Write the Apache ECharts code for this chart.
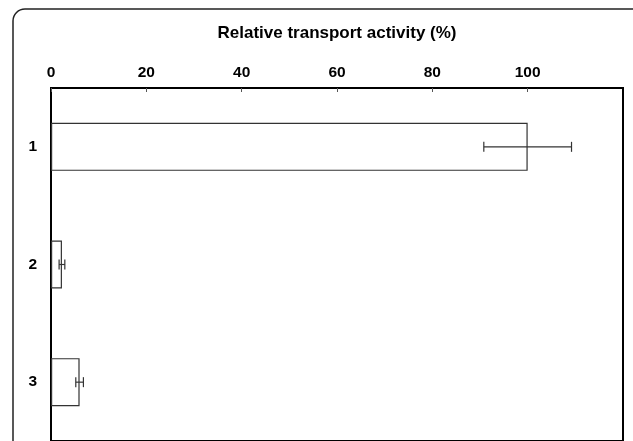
<!DOCTYPE html>
<html>
<head>
<meta charset="utf-8">
<script src="https://cdn.jsdelivr.net/npm/echarts@6/dist/echarts.min.js"></script>
<style>
  html, body { margin: 0; padding: 0; background: #fff; }
  #chart { width: 633px; height: 441px; }
</style>
</head>
<body>
<div id="chart"></div>
<script>
var categories = ['1', '2', '3']
var activity = [100, 2.3, 6.0]
var activityErr = [9.2, 0.6, 0.8]
var xTicks = [0, 20, 40, 60, 80, 100]

var chart = echarts.init(document.getElementById('chart'))
var font = 'Liberation Sans, Arial, Helvetica, sans-serif'

var errData = activity.map(function (v, i) {
  return [i, v - activityErr[i], v + activityErr[i]]
})

var option = {
  animation: false,
  backgroundColor: '#fff',
  graphic: [{
    type: 'rect',
    shape: { x: 13, y: 9, width: 640, height: 460, r: 12 },
    style: { fill: 'none', stroke: '#222', lineWidth: 1.5 },
    silent: true
  }],
  grid: {
    left: 51,
    top: 88,
    width: 572,
    height: 356,
    show: true,
    borderColor: '#000',
    borderWidth: 2,
    backgroundColor: 'transparent'
  },
  xAxis: {
    type: 'value',
    position: 'top',
    min: 0,
    max: 120,
    interval: 20,
    name: 'Relative transport activity (%)',
    nameLocation: 'middle',
    nameGap: 46,
    nameTextStyle: { fontFamily: font, fontSize: 17, fontWeight: 'bold', color: '#000' },
    axisLine: { show: false },
    axisTick: { show: true, inside: true, length: 4, lineStyle: { color: '#555', width: 1 } },
    splitLine: { show: false },
    axisLabel: {
      margin: 7,
      fontFamily: font,
      fontSize: 15.5,
      fontWeight: 'bold',
      color: '#000',
      showMaxLabel: false,
      formatter: function (v) { return xTicks.indexOf(v) >= 0 ? String(v) : '' }
    }
  },
  yAxis: {
    type: 'category',
    inverse: true,
    data: categories,
    axisLine: { show: true, lineStyle: { color: '#000', width: 2 } },
    axisTick: { show: false },
    splitLine: { show: false },
    axisLabel: {
      margin: 14,
      fontFamily: font,
      fontSize: 15.5,
      fontWeight: 'bold',
      color: '#000'
    }
  },
  series: [{
    type: 'bar',
    data: activity,
    barWidth: 48,
    itemStyle: { color: '#fff', borderColor: '#333', borderWidth: 1.2 },
    z: 2
  }, {
    type: 'custom',
    data: errData,
    z: 3,
    renderItem: function (params, api) {
      var cat = api.value(0)
      var lo = api.coord([api.value(1), cat])
      var hi = api.coord([api.value(2), cat])
      var h = 5
      var style = { stroke: '#333', lineWidth: 1.2 }
      return {
        type: 'group',
        children: [
          { type: 'line', shape: { x1: lo[0], y1: lo[1], x2: hi[0], y2: hi[1] }, style: style },
          { type: 'line', shape: { x1: lo[0], y1: lo[1] - h, x2: lo[0], y2: lo[1] + h }, style: style },
          { type: 'line', shape: { x1: hi[0], y1: hi[1] - h, x2: hi[0], y2: hi[1] + h }, style: style }
        ]
      }
    }
  }]
}

chart.setOption(option, true)
</script>
</body>
</html>
